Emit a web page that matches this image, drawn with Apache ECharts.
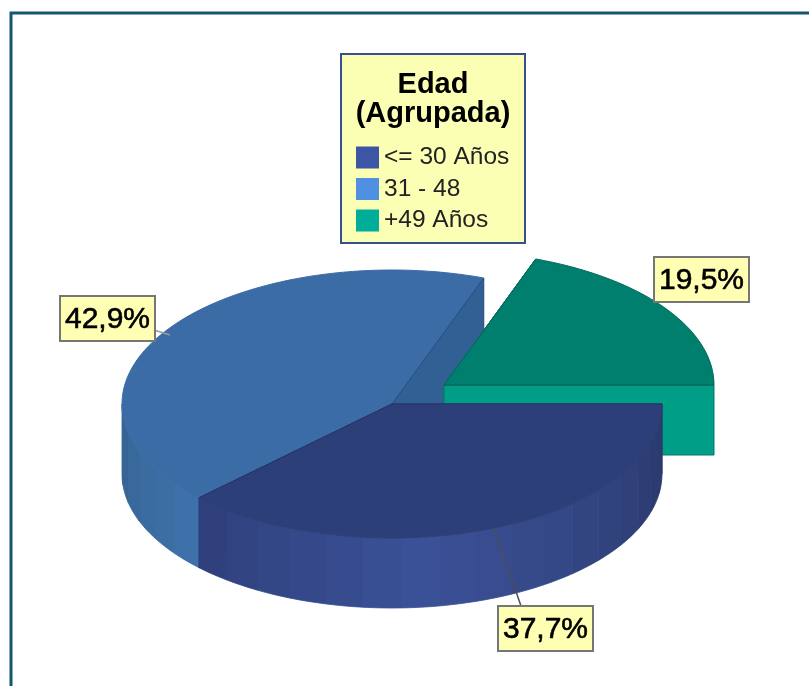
<!DOCTYPE html>
<html>
<head>
<meta charset="utf-8">
<style>html,body{margin:0;padding:0;background:#fff}#c{width:809px;height:686px}</style>
<script src="https://cdn.jsdelivr.net/npm/echarts@6/dist/echarts.min.js"></script>
</head>
<body>
<div id="c"></div>
<script>
const categories = ['<= 30 Años', '31 - 48', '+49 Años'];
const shares = [37.7, 42.9, 19.5];
const chartTitle = 'Edad\n(Agrupada)';

const FONT = '"Liberation Sans", Arial, sans-serif';
const pie = { cx: 392, cy: 404, rx: 270, ry: 134, depth: 70 };
const explode = [[0, 0], [0, 0], [52, -19]];
const stackZ = [3, 1, 2];
const legendColors = ['#3d55a5', '#5090e0', '#00ad9b'];
const topColors = ['#2d3f78', '#3c6ca6', '#007f6e'];
const topStrokes = ['#2d3f78', '#3c6ca6', '#006a5c'];
const radialStrokes = ['#27366a', '#2a4a80', '#006a5c'];
const cutColors = ['#2d3f78', '#316094', '#009e87'];
const cutStrokes = ['#27366a', '#27457a', '#007a68'];
const wallStops = [
  [[0, [42, 56, 105]], [85, [59, 81, 152]], [136, [46, 63, 122]]],
  [[136, [63, 114, 172]], [180, [53, 98, 143]]],
  [[0, [0, 158, 135]], [360, [0, 158, 135]]]
];
const labelBoxes = [[498, 606], [60, 296], [654, 257]];
const leaders = [[[494, 528], [521, 606]], [[154, 330], [170, 335]], null];

const total = shares.reduce((a, b) => a + b, 0);
function rim(cx, cy, deg) {
  const r = deg * Math.PI / 180;
  return [cx + pie.rx * Math.cos(r), cy + pie.ry * Math.sin(r)];
}
function shade(stops, deg) {
  for (let i = 0; i < stops.length - 1; i++) {
    const [a, ca] = stops[i], [b, cb] = stops[i + 1];
    if (deg <= b || i === stops.length - 2) {
      const t = Math.max(0, Math.min(1, (deg - a) / (b - a)));
      return 'rgb(' + ca.map((c, k) => Math.round(c + (cb[k] - c) * t)).join(',') + ')';
    }
  }
}
function makeRender(idx) {
  return function (params, api) {
    const value = api.value(0);
    let before = 0;
    for (let i = 0; i < idx; i++) before += shares[i];
    const a0 = before / total * 360, a1 = a0 + value / total * 360;
    const cx = pie.cx + explode[idx][0], cy = pie.cy + explode[idx][1];
    const d = pie.depth;
    const children = [];
    // cut faces: the end face of each slice is the one that can show
    [a0, a1].forEach(function (a) {
      const p = rim(cx, cy, a);
      children.push({ type: 'polygon',
        shape: { points: [[cx, cy], p, [p[0], p[1] + d], [cx, cy + d]] },
        style: { fill: cutColors[idx], stroke: cutStrokes[idx], lineWidth: 1 } });
    });
    // outer wall, in shaded vertical stripes
    const w0 = Math.max(a0, 0), w1 = Math.min(a1, 180), step = 8;
    for (let a = w0; a < w1; a += step) {
      const b = Math.min(a + step, w1);
      const pts = [], low = [];
      for (let q = 0; q <= 4; q++) {
        const p = rim(cx, cy, a + (b - a) * q / 4);
        pts.push(p); low.unshift([p[0], p[1] + d]);
      }
      const col = shade(wallStops[idx], (a + b) / 2);
      children.push({ type: 'polygon', shape: { points: pts.concat(low) },
        style: { fill: col, stroke: col, lineWidth: 0.8 } });
    }
    // top face
    const top = [[cx, cy]];
    for (let a = a0; a < a1; a += 2) top.push(rim(cx, cy, a));
    top.push(rim(cx, cy, a1));
    children.push({ type: 'polygon', shape: { points: top },
      style: { fill: topColors[idx], stroke: topStrokes[idx], lineWidth: 1 } });
    // radial edges of the top face
    children.push({ type: 'polyline',
      shape: { points: [rim(cx, cy, a0), [cx, cy], rim(cx, cy, a1)] },
      style: { fill: null, stroke: radialStrokes[idx], lineWidth: 1 } });
    // leader line
    if (leaders[idx]) {
      children.push({ type: 'polyline', shape: { points: leaders[idx] },
        style: { fill: null, stroke: idx === 0 ? '#4a4e5e' : '#9a9a9a', lineWidth: 1.5 } });
    }
    // value label
    const box = labelBoxes[idx];
    children.push({ type: 'rect', shape: { x: box[0], y: box[1], width: 95, height: 45 },
      style: { fill: '#ffffb4', stroke: '#767676', lineWidth: 2 } });
    children.push({ type: 'text',
      style: { x: box[0] + 47.5, y: box[1] + 24,
        text: value.toFixed(1).replace('.', ',') + '%',
        fill: '#000', stroke: '#000', lineWidth: 0.6,
        font: '30px ' + FONT, textAlign: 'center', textVerticalAlign: 'middle' } });
    return { type: 'group', children: children };
  };
}

const chart = echarts.init(document.getElementById('c'), null, { renderer: 'canvas' });
chart.setOption({
  animation: false,
  backgroundColor: '#ffffff',
  title: {
    text: chartTitle, left: 433, top: 70, textAlign: 'center', padding: 0,
    textStyle: { fontFamily: FONT, fontSize: 29, fontWeight: 'bold', color: '#000', lineHeight: 29.5 }
  },
  legend: {
    left: 356, top: 145, orient: 'vertical', padding: 0, itemWidth: 23, itemHeight: 22, itemGap: 6.5,
    icon: 'rect', selectedMode: false,
    data: categories,
    textStyle: { fontFamily: FONT, fontSize: 24.5, color: '#222' }
  },
  graphic: [
    { type: 'rect', z: -1, silent: true, shape: { x: 11, y: 13, width: 900, height: 800 },
      style: { fill: '#fff', stroke: '#14566e', lineWidth: 3 } },
    { type: 'rect', z: 0, silent: true, shape: { x: 341, y: 54, width: 184, height: 189 },
      style: { fill: '#fbffb4', stroke: '#34508f', lineWidth: 2 } }
  ],
  series: categories.map(function (name, i) {
    return {
      type: 'custom', name: name, coordinateSystem: 'none', z: stackZ[i] + 1,
      itemStyle: { color: legendColors[i] },
      renderItem: makeRender(i),
      data: [[shares[i]]]
    };
  })
});
</script>
</body>
</html>
